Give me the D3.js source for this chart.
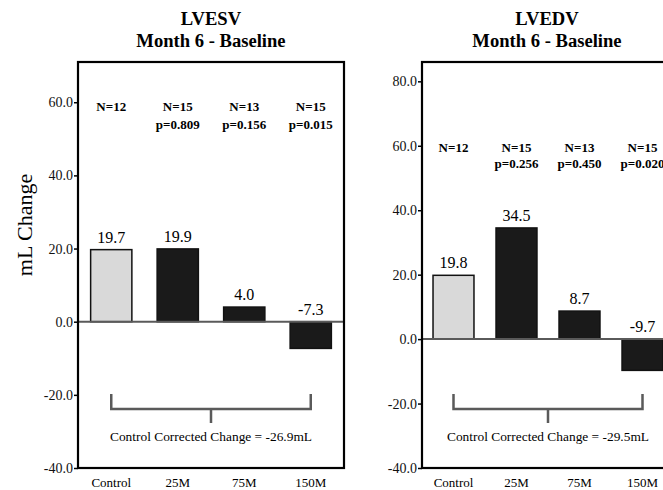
<!DOCTYPE html>
<html>
<head>
<meta charset="utf-8">
<script src="https://cdn.jsdelivr.net/npm/d3@7/dist/d3.min.js"></script>
<style>
  html, body { margin: 0; padding: 0; background: #fff; }
  svg { display: block; }
  svg text { font-family: "Liberation Serif", "DejaVu Serif", serif; }
</style>
</head>
<body>
<svg id="chart" width="663" height="490"></svg>
<script>
const categories = ["Control", "25M", "75M", "150M"];

const esvTitle = ["LVESV", "Month 6 - Baseline"];
const esvValues = [19.7, 19.9, 4.0, -7.3];
const esvN = ["N=12", "N=15", "N=13", "N=15"];
const esvP = ["", "p=0.809", "p=0.156", "p=0.015"];
const esvTicks = [-40, -20, 0, 20, 40, 60];
const esvDomain = [-40, 71];
const esvCorrected = "Control Corrected Change = -26.9mL";

const edvTitle = ["LVEDV", "Month 6 - Baseline"];
const edvValues = [19.8, 34.5, 8.7, -9.7];
const edvN = ["N=12", "N=15", "N=13", "N=15"];
const edvP = ["", "p=0.256", "p=0.450", "p=0.020"];
const edvTicks = [-40, -20, 0, 20, 40, 60, 80];
const edvDomain = [-40, 86];
const edvCorrected = "Control Corrected Change = -29.5mL";

const yLabel = "mL Change";

const FONT = "Liberation Serif, DejaVu Serif, serif";
const fmt = v => d3.format(".1f")(v).replace("\u2212", "-");

const svg = d3.select("#chart");

function drawPanel(cfg) {
  const g = svg.append("g").attr("font-family", FONT);
  const x = d3.scaleBand().domain(categories).range([cfg.left, cfg.right])
    .paddingInner(cfg.pad).paddingOuter(cfg.pad / 2);
  const y = d3.scaleLinear().domain(cfg.domain).range([cfg.bottom, cfg.top]);

  g.selectAll("text.title").data(cfg.title).join("text")
    .attr("class", "title")
    .attr("x", (cfg.left + cfg.right) / 2 + cfg.titleShift)
    .attr("y", (d, i) => 25 + i * 21.5)
    .attr("text-anchor", "middle")
    .attr("font-weight", "bold")
    .attr("font-size", 18.6)
    .text(d => d);

  const axis = d3.axisLeft(y).tickValues(cfg.ticks).tickFormat(fmt)
    .tickSize(4).tickPadding(1);
  const ag = g.append("g").attr("transform", `translate(${cfg.left},0)`).call(axis)
    .attr("font-family", FONT);
  ag.select(".domain").remove();
  ag.selectAll(".tick line").attr("stroke", "#000").attr("stroke-width", 1.5);
  ag.selectAll(".tick text").attr("font-size", 14).attr("fill", "#111");

  g.selectAll("rect.bar").data(cfg.values).join("rect")
    .attr("class", "bar")
    .attr("x", (d, i) => x(categories[i]))
    .attr("width", x.bandwidth())
    .attr("y", d => y(Math.max(0, d)))
    .attr("height", d => Math.abs(y(d) - y(0)))
    .attr("fill", (d, i) => i === 0 ? "#d9d9d9" : "#1a1a1a")
    .attr("stroke", "#111")
    .attr("stroke-width", 1.5);

  g.append("line")
    .attr("x1", cfg.left).attr("x2", cfg.right)
    .attr("y1", y(0)).attr("y2", y(0))
    .attr("stroke", "#5a5a5a").attr("stroke-width", 2);

  g.selectAll("text.val").data(cfg.values).join("text")
    .attr("class", "val")
    .attr("x", (d, i) => x(categories[i]) + x.bandwidth() / 2)
    .attr("y", d => y(Math.max(0, d)) - 7)
    .attr("text-anchor", "middle")
    .attr("font-size", 16)
    .text(d => fmt(d));

  g.selectAll("text.n").data(cfg.n).join("text")
    .attr("class", "n")
    .attr("x", (d, i) => x(categories[i]) + x.bandwidth() / 2)
    .attr("y", cfg.nY)
    .attr("text-anchor", "middle")
    .attr("font-weight", "bold")
    .attr("font-size", 13)
    .text(d => d);
  g.selectAll("text.p").data(cfg.p).join("text")
    .attr("class", "p")
    .attr("x", (d, i) => x(categories[i]) + x.bandwidth() / 2)
    .attr("y", cfg.pY)
    .attr("text-anchor", "middle")
    .attr("font-weight", "bold")
    .attr("font-size", 13)
    .text(d => d);

  g.selectAll("text.cat").data(categories).join("text")
    .attr("class", "cat")
    .attr("x", d => x(d) + x.bandwidth() / 2)
    .attr("y", 487)
    .attr("text-anchor", "middle")
    .attr("font-size", 13)
    .text(d => d);

  const bx1 = x(categories[0]) + x.bandwidth() / 2;
  const bx2 = x(categories[3]) + x.bandwidth() / 2;
  const bm = (bx1 + bx2) / 2;
  g.append("path")
    .attr("d", `M${bx1},394 V409 H${bx2} V394 M${bm},409 V423`)
    .attr("fill", "none").attr("stroke", "#5a5a5a").attr("stroke-width", 2.5);
  g.append("text")
    .attr("x", bm).attr("y", 441)
    .attr("text-anchor", "middle")
    .attr("font-size", 13.4)
    .text(cfg.corrected);

  g.append("rect")
    .attr("x", cfg.left).attr("y", cfg.top)
    .attr("width", cfg.right - cfg.left).attr("height", cfg.bottom - cfg.top)
    .attr("fill", "none").attr("stroke", "#000").attr("stroke-width", 2.2);
}

drawPanel({
  left: 78, right: 344, top: 62, bottom: 468, pad: 0.38, titleShift: 0,
  domain: esvDomain, ticks: esvTicks, values: esvValues, n: esvN, p: esvP,
  title: esvTitle, corrected: esvCorrected, nY: 111, pY: 129
});

drawPanel({
  left: 422, right: 674, top: 62, bottom: 468, pad: 0.35, titleShift: -1,
  domain: edvDomain, ticks: edvTicks, values: edvValues, n: edvN, p: edvP,
  title: edvTitle, corrected: edvCorrected, nY: 152, pY: 168
});

svg.append("text")
  .attr("transform", "translate(32,225) rotate(-90)")
  .attr("text-anchor", "middle")
  .attr("font-family", FONT)
  .attr("font-size", 22)
  .text(yLabel);
</script>
</body>
</html>
